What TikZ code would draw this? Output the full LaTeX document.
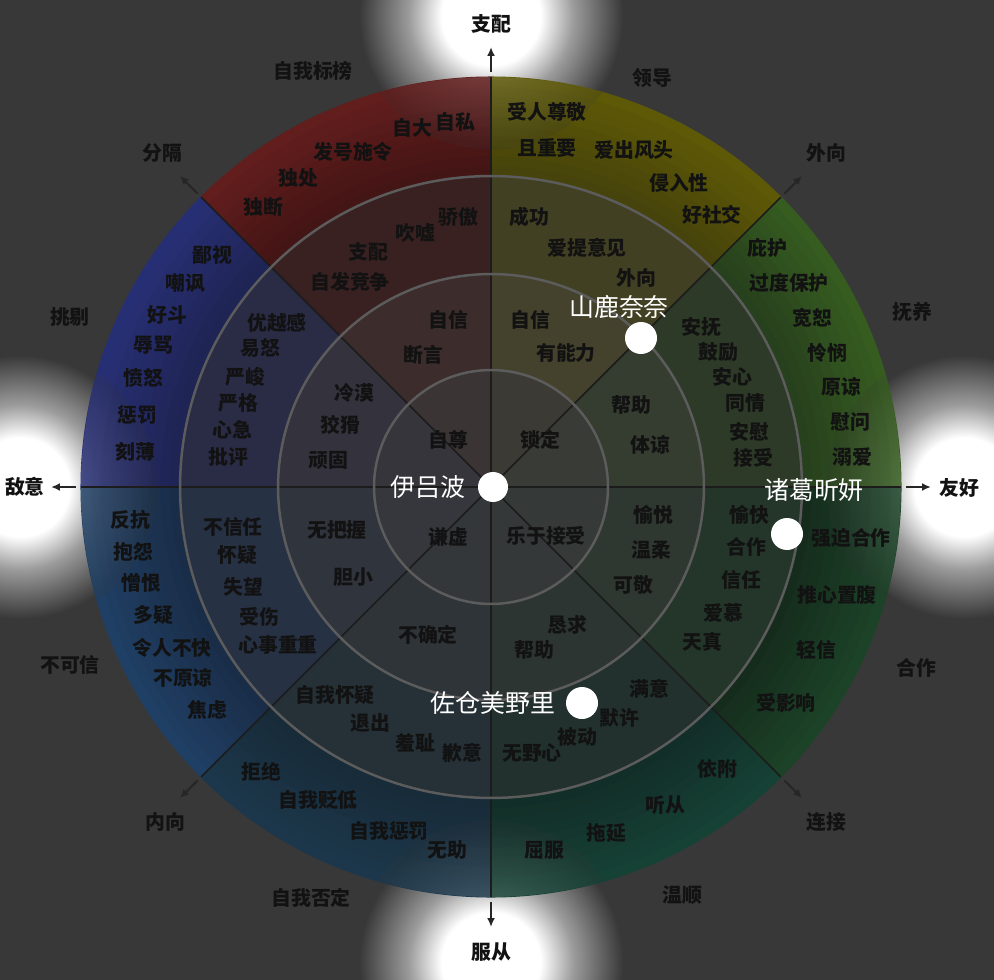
\documentclass[tikz,border=0pt]{standalone}
\usepackage{fontspec}
\newfontfamily\cjk{Noto Sans CJK SC}
\usetikzlibrary{positioning,arrows.meta}

\definecolor{bgc}{HTML}{383838}
\definecolor{ink}{HTML}{121212}
\definecolor{spoke}{HTML}{1c1c1c}
\definecolor{ringc}{HTML}{5c5c5c}
\definecolor{tipc}{HTML}{262626}
\colorlet{glowmid}{white!50!bgc}
% outer ring: inner edge (olo) and rim (ohi)
\definecolor{olo1}{HTML}{263e1d}\definecolor{ohi1}{HTML}{375e20}
\definecolor{olo2}{HTML}{45420c}\definecolor{ohi2}{HTML}{5f5a06}
\definecolor{olo3}{HTML}{421414}\definecolor{ohi3}{HTML}{641e1e}
\definecolor{olo4}{HTML}{1e2352}\definecolor{ohi4}{HTML}{283076}
\definecolor{olo5}{HTML}{192c46}\definecolor{ohi5}{HTML}{204066}
\definecolor{olo6}{HTML}{172a38}\definecolor{ohi6}{HTML}{1c384c}
\definecolor{olo7}{HTML}{122d27}\definecolor{ohi7}{HTML}{164236}
\definecolor{olo8}{HTML}{152b1c}\definecolor{ohi8}{HTML}{1c4428}
% middle ring
\definecolor{mid1}{HTML}{2d3a27}\definecolor{mid2}{HTML}{424023}
\definecolor{mid3}{HTML}{3a2121}\definecolor{mid4}{HTML}{2a2c46}
\definecolor{mid5}{HTML}{273144}\definecolor{mid6}{HTML}{253037}
\definecolor{mid7}{HTML}{22312d}\definecolor{mid8}{HTML}{24362a}
% inner ring
\definecolor{inn1}{HTML}{353c30}\definecolor{inn2}{HTML}{44422c}
\definecolor{inn3}{HTML}{3c2c2c}\definecolor{inn4}{HTML}{33323d}
\definecolor{inn5}{HTML}{30343d}\definecolor{inn6}{HTML}{2e3437}
\definecolor{inn7}{HTML}{2d3532}\definecolor{inn8}{HTML}{2f3731}
% centre disc
\definecolor{ctr1}{HTML}{383b36}\definecolor{ctr2}{HTML}{3c3a34}
\definecolor{ctr3}{HTML}{3b3434}\definecolor{ctr4}{HTML}{36353c}
\definecolor{ctr5}{HTML}{35373c}\definecolor{ctr6}{HTML}{34373a}
\definecolor{ctr7}{HTML}{343838}\definecolor{ctr8}{HTML}{353937}

\pgfdeclareradialshading{glow}{\pgfpointorigin}{color(0bp)=(white); color(9bp)=(white); color(15bp)=(glowmid); color(24bp)=(bgc); color(50bp)=(bgc)}

\begin{document}
\begin{tikzpicture}[x=0.02cm, y=-0.02cm,
    lbl/.style={text=ink, inner sep=1pt, font=\cjk\bfseries\fontsize{11.3}{13}\selectfont},
    who/.style={text=white, inner sep=1pt, font=\cjk\fontsize{14.2}{16}\selectfont},
    dot/.style={circle, fill=white, inner sep=0pt, minimum size=0.64cm},
    spokeline/.style={draw=spoke, line width=0.9pt},
    ringline/.style={draw=ringc, line width=1.4pt},
    pointer/.style={draw=tipc, line width=1.2pt, -{Latex[length=5pt,width=4.5pt]}}]

  \useasboundingbox (0,0) rectangle (994,980);
  \fill[bgc] (0,0) rectangle (994,980);
  % glows behind the poles
  \foreach \gx/\gy in {491/16, 20/487, 964/487, 491/962}
    \shade[shading=glow] (\gx,\gy) circle[radius=2.75cm];

  % wheel
  \begin{scope}[shift={(491,487)}]
    \foreach \i in {1,...,8}{
      \pgfmathtruncatemacro\a{(\i-1)*45}
      \pgfmathtruncatemacro\b{\i*45}
      % outer ring, lighter towards the rim
      \foreach \k in {0,...,9}{
        \pgfmathsetmacro\ra{6.22+\k*0.198}
        \pgfmathsetmacro\rb{\ra+0.21}
        \pgfmathtruncatemacro\p{\k*10+5}
        \fill[fill=ohi\i!\p!olo\i] (\a:\ra cm) arc[start angle=\a, end angle=\b, radius=\ra cm]
          -- (\b:\rb cm) arc[start angle=\b, end angle=\a, radius=\rb cm] -- cycle;
      }
      \fill[fill=mid\i] (\a:4.26cm) arc[start angle=\a, end angle=\b, radius=4.26cm]
        -- (\b:6.24cm) arc[start angle=\b, end angle=\a, radius=6.24cm] -- cycle;
      \fill[fill=inn\i] (\a:2.34cm) arc[start angle=\a, end angle=\b, radius=2.34cm]
        -- (\b:4.28cm) arc[start angle=\b, end angle=\a, radius=4.28cm] -- cycle;
      \fill[fill=ctr\i] (0,0) -- (\a:2.36cm) arc[start angle=\a, end angle=\b, radius=2.36cm] -- cycle;
    }
    % glow showing through the rim
    \begin{scope}
      \clip (0,0) circle[radius=8.2cm];
      \foreach \gx/\gy in {0/471, -471/0, 473/0, 0/-475}
        \shade[shading=glow, opacity=0.16] (\gx,\gy) circle[radius=2.75cm];
    \end{scope}
    \foreach \a in {0,45,...,315}
      \draw[spokeline] (0,0) -- (\a:8.2cm);
    \foreach \r in {2.34,4.26,6.22}
      \draw[ringline] (0,0) circle[radius=\r cm];
    % axis pointers
    \foreach \a in {0,45,...,315}{
      \coordinate (s\a) at (\a:8.3cm);
      \coordinate (t\a) at (\a:8.8cm);
      \draw[pointer] (s\a) -- (t\a);
    }
  \end{scope}

  % poles and octant names
  \node[lbl] (pDom) at (491,24) {支配};
  \node[lbl] (pSub) at (491,952) {服从};
  \node[lbl] (pHos) at (25,487) {敌意};
  \node[lbl] (pFri) at (959,488) {友好};
  \node[lbl] (pSep) at (162,153) {分隔};
  \node[lbl] (pExt) at (826,153) {外向};
  \node[lbl] (pInt) at (165,822) {内向};
  \node[lbl] (pCon) at (826,822) {连接};
  \node[lbl] (oct1) at (313,71) {自我标榜};
  \node[lbl] (oct2) at (652,78) {领导};
  \node[lbl] (oct3) at (70,317) {挑剔};
  \node[lbl] (oct4) at (912,312) {抚养};
  \node[lbl] (oct5) at (70,665) {不可信};
  \node[lbl] (oct6) at (916,668) {合作};
  \node[lbl] (oct7) at (311,898) {自我否定};
  \node[lbl] (oct8) at (682,895) {温顺};

  % red sector
  \node[lbl] (red1) at (455,122) {自私};
  \node[lbl] (red2) at (412,128) {自大};
  \node[lbl] (red3) at (353,152) {发号施令};
  \node[lbl] (red4) at (298,178) {独处};
  \node[lbl] (red5) at (263,207) {独断};
  \node[lbl] (red6) at (458,217) {骄傲};
  \node[lbl] (red7) at (415,233) {吹嘘};
  \node[lbl] (red8) at (368,252) {支配};
  \node[lbl] (red9) at (350,282) {自发竞争};
  \node[lbl] (red10) at (448,320) {自信};
  \node[lbl] (red11) at (423,355) {断言};

  % centre
  \node[lbl] (core1) at (448,440) {自尊};
  \node[lbl] (core2) at (540,440) {锁定};
  \node[lbl] (core3) at (448,537) {谦虚};
  \node[lbl] (core4) at (546,536) {乐于接受};

  % yellow sector
  \node[lbl] (yel1) at (547,112) {受人尊敬};
  \node[lbl] (yel2) at (547,148) {且重要};
  \node[lbl] (yel3) at (634,150) {爱出风头};
  \node[lbl] (yel4) at (679,183) {侵入性};
  \node[lbl] (yel5) at (712,215) {好社交};
  \node[lbl] (yel6) at (529,217) {成功};
  \node[lbl] (yel7) at (587,248) {爱提意见};
  \node[lbl] (yel8) at (636,278) {外向};
  \node[lbl] (yel9) at (530,320) {自信};
  \node[lbl] (yel10) at (566,353) {有能力};

  % upper green sector
  \node[lbl] (grn1) at (767,248) {庇护};
  \node[lbl] (grn2) at (789,283) {过度保护};
  \node[lbl] (grn3) at (812,318) {宽恕};
  \node[lbl] (grn4) at (827,353) {怜悯};
  \node[lbl] (grn5) at (841,387) {原谅};
  \node[lbl] (grn6) at (850,422) {慰问};
  \node[lbl] (grn7) at (852,457) {溺爱};
  \node[lbl] (grn8) at (701,327) {安抚};
  \node[lbl] (grn9) at (718,352) {鼓励};
  \node[lbl] (grn10) at (732,377) {安心};
  \node[lbl] (grn11) at (745,403) {同情};
  \node[lbl] (grn12) at (749,432) {安慰};
  \node[lbl] (grn13) at (753,458) {接受};
  \node[lbl] (grn14) at (631,405) {帮助};
  \node[lbl] (grn15) at (650,445) {体谅};

  % lower green sector
  \node[lbl] (low1) at (851,538) {强迫合作};
  \node[lbl] (low2) at (837,595) {推心置腹};
  \node[lbl] (low3) at (816,650) {轻信};
  \node[lbl] (low4) at (786,703) {受影响};
  \node[lbl] (low5) at (749,515) {愉快};
  \node[lbl] (low6) at (746,547) {合作};
  \node[lbl] (low7) at (741,580) {信任};
  \node[lbl] (low8) at (723,613) {爱慕};
  \node[lbl] (low9) at (702,642) {天真};
  \node[lbl] (low10) at (653,515) {愉悦};
  \node[lbl] (low11) at (651,550) {温柔};
  \node[lbl] (low12) at (633,585) {可敬};

  % teal sector
  \node[lbl] (tea1) at (717,769) {依附};
  \node[lbl] (tea2) at (665,805) {听从};
  \node[lbl] (tea3) at (606,833) {拖延};
  \node[lbl] (tea4) at (544,850) {屈服};
  \node[lbl] (tea5) at (649,689) {满意};
  \node[lbl] (tea6) at (619,718) {默许};
  \node[lbl] (tea7) at (577,737) {被动};
  \node[lbl] (tea8) at (532,753) {无野心};
  \node[lbl] (tea9) at (567,625) {恳求};
  \node[lbl] (tea10) at (534,650) {帮助};

  % slate sector
  \node[lbl] (sla1) at (261,772) {拒绝};
  \node[lbl] (sla2) at (318,800) {自我贬低};
  \node[lbl] (sla3) at (389,831) {自我惩罚};
  \node[lbl] (sla4) at (447,850) {无助};
  \node[lbl] (sla5) at (335,695) {自我怀疑};
  \node[lbl] (sla6) at (370,723) {退出};
  \node[lbl] (sla7) at (415,743) {羞耻};
  \node[lbl] (sla8) at (462,753) {歉意};
  \node[lbl] (sla9) at (428,635) {不确定};

  % blue sector
  \node[lbl] (blu1) at (130,520) {反抗};
  \node[lbl] (blu2) at (133,552) {抱怨};
  \node[lbl] (blu3) at (141,583) {憎恨};
  \node[lbl] (blu4) at (153,615) {多疑};
  \node[lbl] (blu5) at (172,648) {令人不快};
  \node[lbl] (blu6) at (183,678) {不原谅};
  \node[lbl] (blu7) at (207,710) {焦虑};
  \node[lbl] (blu8) at (233,527) {不信任};
  \node[lbl] (blu9) at (237,555) {怀疑};
  \node[lbl] (blu10) at (243,587) {失望};
  \node[lbl] (blu11) at (259,617) {受伤};
  \node[lbl] (blu12) at (278,645) {心事重重};
  \node[lbl] (blu13) at (337,530) {无把握};
  \node[lbl] (blu14) at (353,577) {胆小};

  % indigo sector
  \node[lbl] (ind1) at (212,255) {鄙视};
  \node[lbl] (ind2) at (185,283) {嘲讽};
  \node[lbl] (ind3) at (167,315) {好斗};
  \node[lbl] (ind4) at (153,345) {辱骂};
  \node[lbl] (ind5) at (143,378) {愤怒};
  \node[lbl] (ind6) at (137,415) {惩罚};
  \node[lbl] (ind7) at (135,452) {刻薄};
  \node[lbl] (ind8) at (277,323) {优越感};
  \node[lbl] (ind9) at (260,348) {易怒};
  \node[lbl] (ind10) at (245,377) {严峻};
  \node[lbl] (ind11) at (238,403) {严格};
  \node[lbl] (ind12) at (232,430) {心急};
  \node[lbl] (ind13) at (228,457) {批评};
  \node[lbl] (ind14) at (354,393) {冷漠};
  \node[lbl] (ind15) at (340,425) {狡猾};
  \node[lbl] (ind16) at (328,460) {顽固};

  % people
  \node[dot, minimum size=0.6cm] (iroha) at (493,487) {};
  \node[who, left=0.2cm of iroha] (irohaName) {伊吕波};
  \node[dot] (nana) at (641,338) {};
  \node[who, above=0.02cm of nana, xshift=-0.44cm] (nanaName) {山鹿奈奈};
  \node[dot] (xinyan) at (787,534) {};
  \node[who, above=0.28cm of xinyan, xshift=0.54cm] (xinyanName) {诸葛昕妍};
  \node[dot] (minori) at (582,703) {};
  \node[who, left=0.17cm of minori] (minoriName) {佐仓美野里};
\end{tikzpicture}
\end{document}
